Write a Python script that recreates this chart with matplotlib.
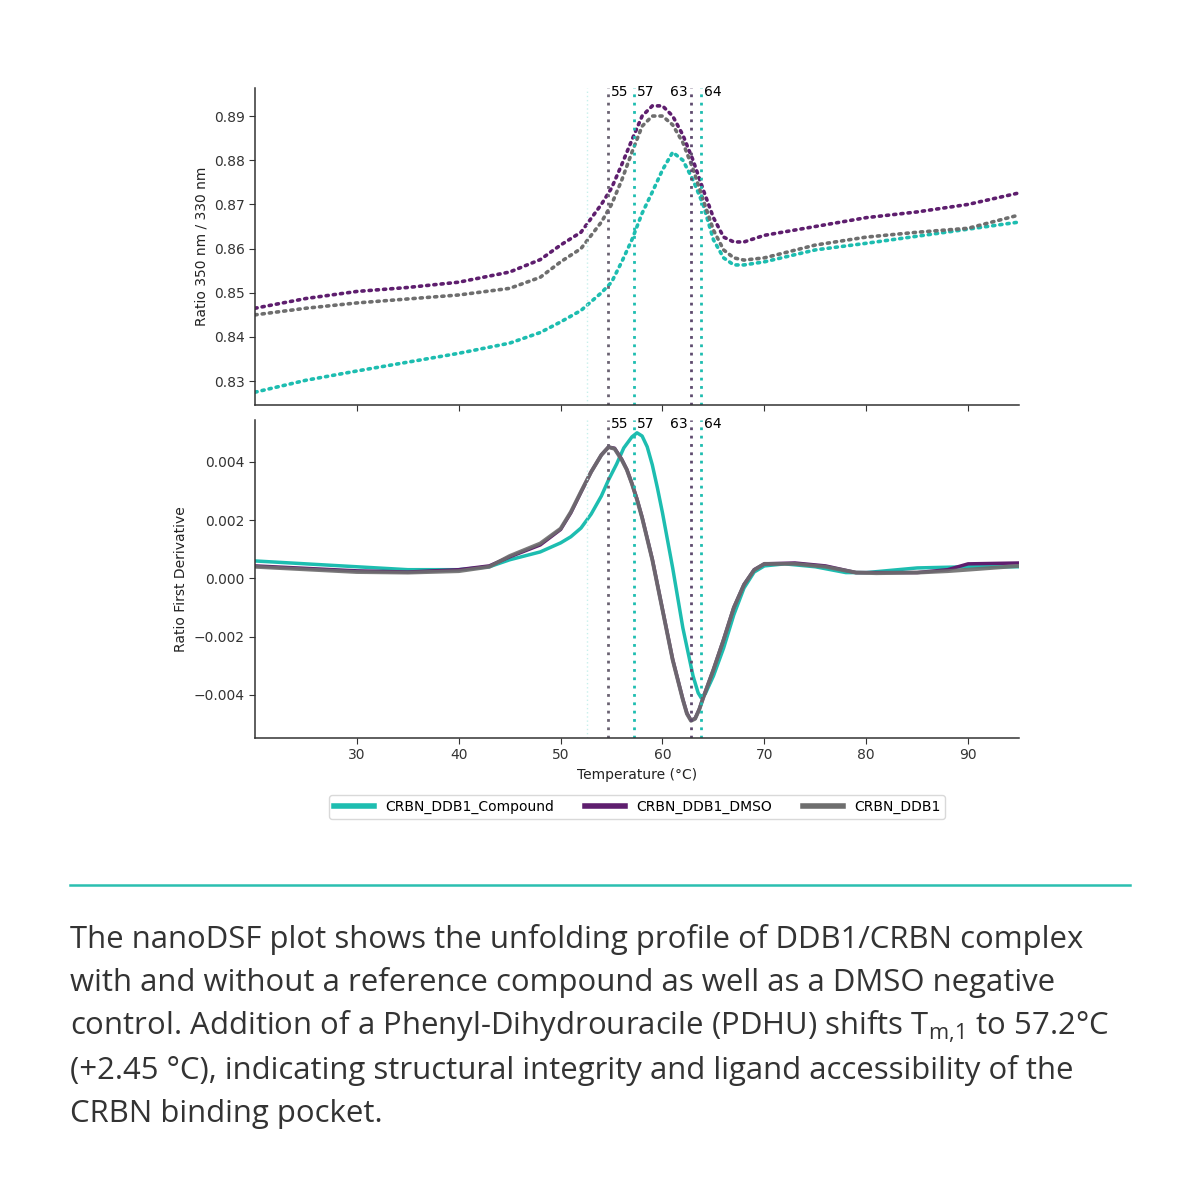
import matplotlib
matplotlib.use("Agg")
import matplotlib.pyplot as plt
import numpy as np

plt.rcParams["font.family"] = ["DejaVu Sans"]

# ratio 350/330
temp_top = [20, 25, 30, 35, 40, 45, 48, 50, 52, 54, 55, 56, 57, 58, 59, 60,
            61, 62, 63, 64, 65, 66, 67, 68, 70, 75, 80, 85, 90, 95]
ratio_cmpd = [0.8275, 0.8302, 0.8323, 0.8343, 0.8363, 0.8386, 0.8410, 0.8434,
              0.8460, 0.8500, 0.8524, 0.8570, 0.8620, 0.8680, 0.8728, 0.8778,
              0.8818, 0.8800, 0.8755, 0.8699, 0.8620, 0.8579, 0.8563, 0.8563,
              0.8570, 0.8597, 0.8612, 0.8628, 0.8644, 0.8660]
ratio_dmso = [0.8465, 0.8487, 0.8503, 0.8512, 0.8524, 0.8547, 0.8575, 0.8608,
              0.8637, 0.8700, 0.8737, 0.8790, 0.8846, 0.8900, 0.8923, 0.8923,
              0.8900, 0.8857, 0.8800, 0.8733, 0.8670, 0.8626, 0.8615, 0.8615,
              0.8630, 0.8650, 0.8670, 0.8683, 0.8700, 0.8726]
ratio_ddb1 = [0.8450, 0.8465, 0.8477, 0.8486, 0.8495, 0.8510, 0.8535, 0.8570,
              0.8600, 0.8660, 0.8700, 0.8755, 0.8818, 0.8877, 0.8900, 0.8900,
              0.8880, 0.8840, 0.8780, 0.8710, 0.8642, 0.8597, 0.8579, 0.8574,
              0.8579, 0.8608, 0.8626, 0.8637, 0.8646, 0.8676]

# first derivative (lower panel)
temp_cmpd = [20, 30, 35, 40, 43, 45, 48, 50, 51, 52, 53, 54, 54.7, 55.5, 56.2,
             57, 57.5, 58, 58.5, 59, 59.5, 60, 61, 62, 63, 63.5, 63.8, 64.2, 65,
             66, 67, 68, 69, 70, 72, 75, 78, 80, 85, 90, 95]
deriv_cmpd = [0.0006, 0.0004, 0.0003, 0.0003, 0.0004, 0.00064, 0.00091,
              0.00122, 0.00143, 0.00173, 0.00221, 0.00283, 0.00338, 0.00393,
              0.00448, 0.00486, 0.00500, 0.00489, 0.00452, 0.00390, 0.00311,
              0.00225, 0.00036, -0.00170, -0.00335, -0.00393, -0.00410,
              -0.00396, -0.00335, -0.00239, -0.00125, -0.00033, 0.00022,
              0.00043, 0.0005, 0.0004, 0.0002, 0.0002, 0.00036, 0.0004, 0.0004]
temp_d = [20, 30, 35, 40, 43, 45, 48, 50, 51, 52, 53, 54, 54.7, 55.3, 56,
          56.5, 57, 57.5, 58, 59, 60, 61, 62, 62.4, 62.8, 63.2, 63.6, 64, 65,
          66, 67, 68, 69, 70, 73, 76, 79, 81, 85, 88, 90, 95]
deriv_dmso = [0.00043, 0.00026, 0.00022, 0.0003, 0.00043, 0.00074, 0.00115,
              0.00168, 0.00225, 0.00296, 0.00366, 0.00424, 0.00451, 0.00447,
              0.00409, 0.00374, 0.00326, 0.00272, 0.00210, 0.00066, -0.00106,
              -0.00278, -0.00415, -0.00463, -0.00487, -0.00481, -0.00450,
              -0.00409, -0.00313, -0.00210, -0.00100, -0.00021, 0.00030,
              0.0005, 0.00053, 0.00043, 0.0002, 0.0002, 0.0002, 0.0003, 0.0005,
              0.00053]
deriv_ddb1 = [0.0004, 0.00022, 0.0002, 0.00025, 0.0004, 0.00077, 0.0012,
              0.00171, 0.00228, 0.00298, 0.00366, 0.00424, 0.00451, 0.00445,
              0.00407, 0.00373, 0.00325, 0.00270, 0.00208, 0.00064, -0.00108,
              -0.00280, -0.00417, -0.00465, -0.00489, -0.00482, -0.00451,
              -0.00410, -0.00314, -0.00211, -0.00101, -0.00022, 0.00029,
              0.0005, 0.0005, 0.0004, 0.0002, 0.00018, 0.0002, 0.00025, 0.0003,
              0.00043]

series = ["CRBN_DDB1_Compound", "CRBN_DDB1_DMSO", "CRBN_DDB1"]
colors = ["#1dbdb0", "#5e1e6e", "#6e6e6e"]

# melting points marked on both panels
tm_vals = [54.7, 57.2, 62.75, 63.8]
tm_labels = ["55", "57", "63", "64"]
tm_colors = ["#6a6272", "#1dbdb0", "#5e4a6e", "#1dbdb0"]
tm_ha = ["left", "left", "right", "left"]
faint_tm = 52.6

fig = plt.figure(figsize=(12, 12), dpi=100)
ax1 = fig.add_axes([0.2125, 0.6625, 0.6367, 0.264])
ax2 = fig.add_axes([0.2125, 0.385, 0.6367, 0.265], sharex=ax1)

dot = (0, (0.6, 1.4))
ax1.plot(temp_top, ratio_cmpd, color=colors[0], lw=2.6, ls=dot, dash_capstyle="round")
ax1.plot(temp_top, ratio_ddb1, color=colors[2], lw=2.6, ls=dot, dash_capstyle="round")
ax1.plot(temp_top, ratio_dmso, color=colors[1], lw=2.6, ls=dot, dash_capstyle="round")

ax2.plot(temp_cmpd, deriv_cmpd, color=colors[0], lw=2.5)
ax2.plot(temp_d, deriv_dmso, color=colors[1], lw=2.5)
ax2.plot(temp_d, deriv_ddb1, color=colors[2], lw=2.8, alpha=0.9)

for ax in (ax1, ax2):
    ax.axvline(faint_tm, color="#c8f0ec", lw=1, ls=(0, (1, 2)))
    for t, lab, c, ha in zip(tm_vals, tm_labels, tm_colors, tm_ha):
        ax.axvline(t, color=c, lw=2, ls=(0, (1, 2)))
        off = 0.25 if ha == "left" else -0.25
        ax.text(t + off, 0.987, lab, transform=ax.get_xaxis_transform(),
                ha=ha, va="center", fontsize=10, color="black")
    ax.spines["top"].set_visible(False)
    ax.spines["right"].set_visible(False)
    for s in ("left", "bottom"):
        ax.spines[s].set_color("#333333")
        ax.spines[s].set_linewidth(1.1)
    ax.tick_params(labelsize=10, colors="#333333", length=4)

ax1.set_xlim(20, 95)
ax1.set_ylim(0.8246, 0.8963)
ax1.set_yticks([0.83, 0.84, 0.85, 0.86, 0.87, 0.88, 0.89])
ax1.tick_params(axis="x", labelbottom=False)
ax1.set_ylabel("Ratio 350 nm / 330 nm", fontsize=10, color="#222222")

ax2.set_ylim(-0.00548, 0.00544)
ax2.set_yticks([-0.004, -0.002, 0.0, 0.002, 0.004])
ax2.set_xticks([30, 40, 50, 60, 70, 80, 90])
ax2.set_xlabel("Temperature (°C)", fontsize=10, color="#222222")
ax2.set_ylabel("Ratio First Derivative", fontsize=10, color="#222222")

handles = [plt.Line2D([], [], color=c, lw=4) for c in colors]
leg = fig.legend(handles, series, loc="upper center", bbox_to_anchor=(0.531, 0.343),
                 ncol=3, fontsize=10, frameon=True, handlelength=2.9,
                 columnspacing=2.2, borderpad=0.35)
leg.get_frame().set_edgecolor("#d0d0d0")

# separator and caption
fig.add_artist(plt.Line2D([70 / 1200, 1130 / 1200], [1 - 885 / 1200] * 2,
                          color="#2bbfb0", lw=1.8))

plt.rcParams["mathtext.fontset"] = "custom"
plt.rcParams["mathtext.rm"] = "Open Sans"
caption = [
    "The nanoDSF plot shows the unfolding profile of DDB1/CRBN complex",
    "with and without a reference compound as well as a DMSO negative",
    r"control. Addition of a Phenyl-Dihydrouracile (PDHU) shifts T$_{\mathrm{m{,}1}}$ to 57.2°C",
    "(+2.45 °C), indicating structural integrity and ligand accessibility of the",
    "CRBN binding pocket.",
]
for i, line in enumerate(caption):
    y = 948 + i * 43.5
    fig.text(70 / 1200, 1 - y / 1200, line, family="Open Sans", fontsize=22.4,
             color="#333333", ha="left", va="baseline")

fig.savefig("out.png", dpi=100, facecolor="white")
